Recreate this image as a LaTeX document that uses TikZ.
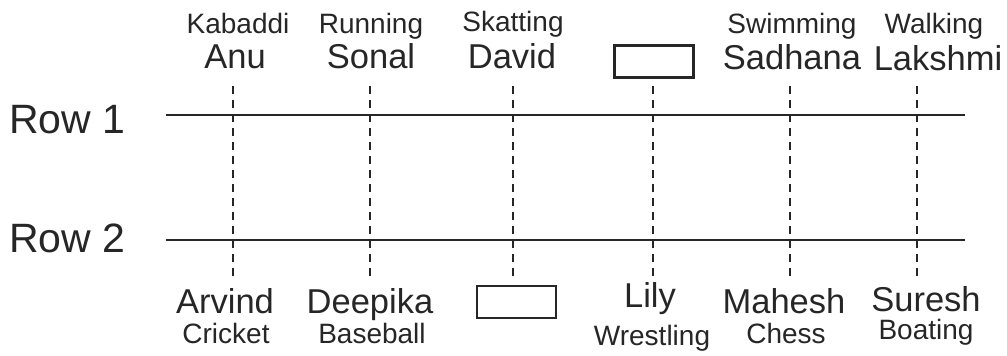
\documentclass[tikz,border=0pt]{standalone}
\usepackage{fontspec}
\setmainfont{Liberation Sans}
\begin{document}
\begin{tikzpicture}[x=1pt,y=-1pt,
  txt/.style={inner sep=0pt,anchor=base,text=black!85},
  namelbl/.style={txt,font=\fontsize{34.5}{38}\selectfont},
  sportlbl/.style={txt,font=\fontsize{28}{30}\selectfont},
  rowlbl/.style={txt,anchor=base west,font=\fontsize{41}{44}\selectfont},
  rowline/.style={line width=2.8pt,black!85},
  vdash/.style={line width=2.8pt,black!85,dash pattern=on 8pt off 6pt},
  blank/.style={draw=black!85,line width=2.4pt,inner sep=0pt,minimum width=79pt,minimum height=32pt}]
\useasboundingbox (0,0) rectangle (1007,356);
% row labels and lines
\node[rowlbl] (r1) at (9,133) {Row 1};
\node[rowlbl] (r2) at (9,252) {Row 2};
\coordinate (r1a) at (166,115); \coordinate (r1b) at (965,115);
\coordinate (r2a) at (166,240); \coordinate (r2b) at (965,240);
\draw[rowline] (r1a) -- (r1b);
\draw[rowline] (r2a) -- (r2b);
% vertical dashed lines
\foreach \i/\x in {1/233,2/370,3/513,4/653,5/790,6/917}{
  \coordinate (t\i) at (\x,86);
  \coordinate (b\i) at (\x,278);
  \draw[vdash] (t\i) -- (b\i);
}
% top labels
\node[sportlbl] (s1) at (238,33) {Kabaddi};
\node[namelbl] (n1) at (235,68) {Anu};
\node[sportlbl] (s2) at (371,33) {Running};
\node[namelbl] (n2) at (371,68) {Sonal};
\node[sportlbl] (s3) at (513,31) {Skatting};
\node[namelbl] (n3) at (512,68) {David};
\node[blank] (bx1) at (654,61.5) {};
\node[sportlbl] (s5) at (792,33) {Swimming};
\node[namelbl] (n5) at (792,69) {Sadhana};
\node[sportlbl] (s6) at (934,33) {Walking};
\node[namelbl] (n6) at (938,70) {Lakshmi};
% bottom labels
\node[namelbl] (m1) at (225,313) {Arvind};
\node[sportlbl] (c1) at (226,343) {Cricket};
\node[namelbl] (m2) at (370,313) {Deepika};
\node[sportlbl] (c2) at (372,343) {Baseball};
\node[blank] (bx2) at (516.5,302) {};
\node[namelbl] (m4) at (650,307) {Lily};
\node[sportlbl] (c4) at (652,345) {Wrestling};
\node[namelbl] (m5) at (784,313) {Mahesh};
\node[sportlbl] (c5) at (786,343) {Chess};
\node[namelbl] (m6) at (926,311) {Suresh};
\node[sportlbl] (c6) at (926,339) {Boating};
\end{tikzpicture}
\end{document}
